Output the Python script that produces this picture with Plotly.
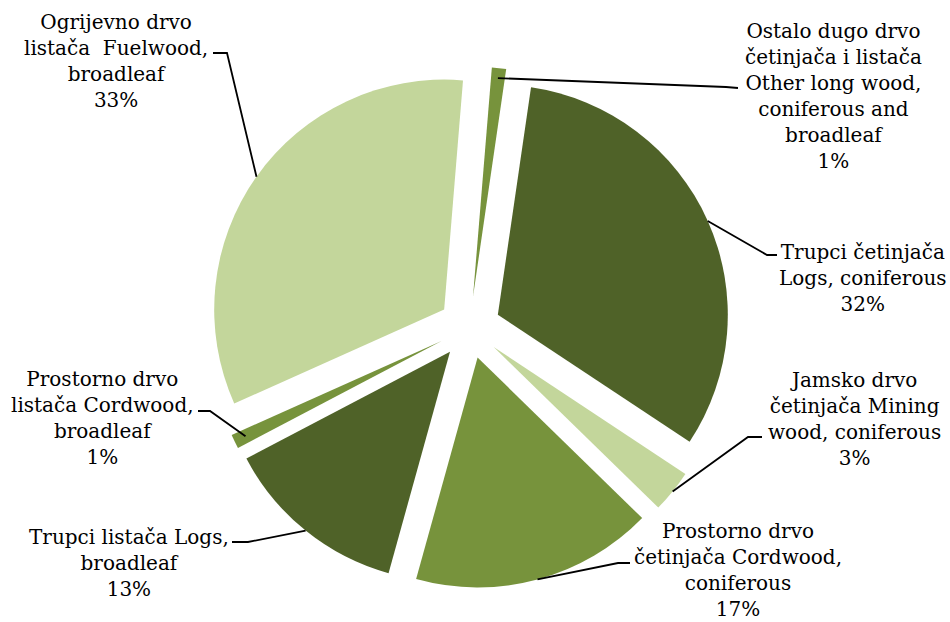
import math
import plotly.graph_objects as go

# ---- data (clockwise from the top) ----
labels = [
    "Ostalo dugo drvo četinjača i listača Other long wood, coniferous and broadleaf",
    "Trupci četinjača Logs, coniferous",
    "Jamsko drvo četinjača Mining wood, coniferous",
    "Prostorno drvo četinjača Cordwood, coniferous",
    "Trupci listača Logs, broadleaf",
    "Prostorno drvo listača Cordwood, broadleaf",
    "Ogrijevno drvo listača  Fuelwood, broadleaf",
]
label_lines = [
    ["Ostalo dugo drvo", "četinjača i listača", "Other long wood,", "coniferous and", "broadleaf"],
    ["Trupci četinjača", "Logs, coniferous"],
    ["Jamsko drvo", "četinjača Mining", "wood, coniferous"],
    ["Prostorno drvo", "četinjača Cordwood,", "coniferous"],
    ["Trupci listača Logs,", "broadleaf"],
    ["Prostorno drvo", "listača Cordwood,", "broadleaf"],
    ["Ogrijevno drvo", "listača\u00a0 Fuelwood,", "broadleaf"],
]
values = [1, 32, 3, 17, 13, 1, 33]

colors = ["#77933C", "#4F6228", "#C3D69B", "#77933C", "#4F6228", "#77933C", "#C3D69B"]

# ---- layout settings (pixels) ----
W, H = 950, 622
PULL = 0.135
ROT = 4.7
CX, CY = 469.5, 327.5
BOX = 522
R = BOX / (2 + 2 * PULL)

# label centre, elbow and end of leader line (pixels)
label_pos = [(833, 96), (863, 278), (854, 419), (738, 570), (129, 563), (102, 418), (116, 61)]
elbows = [(726, 87), (767, 255), (748, 437), (618, 563), (248, 542), (210, 411), (227, 53)]
ends = [(738, 88), (777, 255), (762, 437), (630, 563), (232, 542), (198, 411), (213, 53)]
anchor_inset = [10, 0, 0, 0, 0, 12, 0]

FONT = dict(family="DejaVu Serif", size=20, color="#000000")


def px(x):
    return x / W


def py(y):
    return 1 - y / H


fig = go.Figure(
    go.Pie(
        labels=labels,
        values=values,
        sort=False,
        direction="clockwise",
        rotation=ROT,
        pull=[PULL] * len(values),
        marker=dict(colors=colors, line=dict(width=0)),
        textinfo="none",
        hoverinfo="label+percent",
        showlegend=False,
        domain=dict(
            x=[(CX - BOX / 2) / W, (CX + BOX / 2) / W],
            y=[1 - (CY + BOX / 2) / H, 1 - (CY - BOX / 2) / H],
        ),
    )
)

total = sum(values)
cum = 0.0
annotations = []
shapes = []
for i, v in enumerate(values):
    mid = math.radians(ROT + 360 * (cum + v / 2) / total)
    cum += v
    rr = R * (1 + PULL) - anchor_inset[i]
    ax = CX + rr * math.sin(mid)
    ay = CY - rr * math.cos(mid)
    pct = round(100 * v / total)
    text = "<br>".join(label_lines[i] + [f"{pct}%"])
    lx, ly = label_pos[i]
    annotations.append(
        dict(
            x=px(lx), y=py(ly), xref="paper", yref="paper",
            text=text, showarrow=False, font=FONT,
            xanchor="center", yanchor="middle", align="center",
        )
    )
    ex, ey = elbows[i]
    tx, ty = ends[i]
    shapes.append(
        dict(
            type="path", xref="paper", yref="paper",
            path=f"M {px(ax)},{py(ay)} L {px(ex)},{py(ey)} L {px(tx)},{py(ty)}",
            line=dict(color="#000000", width=1.8),
        )
    )

fig.update_layout(
    width=W,
    height=H,
    margin=dict(l=0, r=0, t=0, b=0),
    paper_bgcolor="#FFFFFF",
    plot_bgcolor="#FFFFFF",
    annotations=annotations,
    shapes=shapes,
)

fig.write_html(
    "out.html",
    config={"displayModeBar": False},
    post_script="document.body.style.margin='0';document.body.style.overflow='hidden';",
)
